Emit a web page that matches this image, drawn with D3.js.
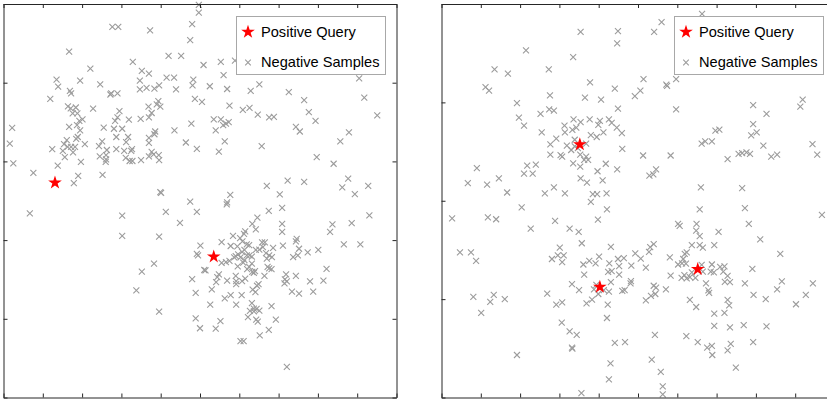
<!DOCTYPE html>
<html>
<head>
<meta charset="utf-8">
<script src="https://cdn.jsdelivr.net/npm/d3@7/dist/d3.min.js"></script>
<style>
  html, body { margin: 0; padding: 0; background: #fff; }
  svg { display: block; }
  text { font-family: "Liberation Sans", Arial, Helvetica, sans-serif; }
</style>
</head>
<body>
<svg id="chart" width="827" height="399"></svg>
<script>
// ---- Data ----
const xTicks = [0, 10, 20, 30, 40, 50, 60, 70, 80, 90, 100];
const leftYTicks = [0, 20, 40, 60, 80, 100];
const rightYTicks = [0, 25, 50, 75, 100];
const legendLabels = ["Positive Query", "Negative Samples"];

const leftQueries = [[13.1, 54.6], [53.5, 35.8]];
const rightQueries = [[35.2, 64.3], [40.3, 28.1], [65.2, 32.6]];

const leftNegatives = [
[27.7,94.2],[29.2,94.2],[37.3,93.3],[48.0,94.9],[49.7,99.8],[49.7,97.8],[47.5,90.8],[16.7,87.9],[32.9,85.3],[42.0,86.8],
[45.2,86.8],[50.9,84.5],[22.1,83.6],[35.2,83.0],[37.0,82.3],[41.5,81.3],[43.4,81.3],[13.5,80.8],[13.9,79.0],[19.5,80.5],
[24.6,79.6],[34.7,80.5],[34.7,78.3],[36.4,78.7],[38.4,78.5],[39.6,79.3],[48.3,80.8],[48.1,79.3],[43.9,78.3],[16.9,77.9],
[17.2,77.3],[27.4,77.3],[27.2,77.0],[29.0,77.3],[11.9,75.9],[48.7,75.9],[50.5,75.1],[16.4,74.0],[17.1,73.5],[18.4,73.7],
[17.6,72.2],[18.8,72.2],[22.8,73.4],[39.4,75.3],[39.9,73.9],[39.0,74.5],[36.9,73.9],[29.5,72.8],[29.0,71.2],[28.4,70.3],
[37.7,72.3],[37.0,71.2],[34.9,70.8],[31.9,70.6],[20.1,70.7],[19.3,70.3],[18.7,69.2],[16.7,68.8],[2.2,68.5],[25.5,68.6],
[28.1,68.3],[30.2,68.3],[47.8,69.6],[43.5,67.9],[38.6,67.6],[38.4,66.9],[19.5,67.9],[18.9,66.2],[18.5,65.7],[28.7,66.2],
[31.7,66.2],[31.2,64.9],[37.0,66.0],[37.0,64.7],[25.1,65.1],[24.3,63.9],[46.4,64.8],[1.6,64.5],[16.1,65.4],[15.4,64.4],
[16.3,63.7],[15.1,62.7],[17.2,63.7],[18.2,63.7],[17.7,62.3],[20.7,64.4],[12.4,63.1],[26.3,62.9],[26.1,61.6],[26.1,60.5],
[26.0,59.9],[28.7,63.1],[30.7,62.7],[32.7,63.1],[32.5,62.7],[37.7,62.4],[38.2,61.8],[49.2,63.2],[15.6,61.1],[24.5,61.3],
[31.1,60.9],[32.1,60.1],[32.8,60.1],[37.0,61.3],[39.5,61.6],[39.6,60.3],[35.0,60.3],[2.5,59.5],[19.7,59.9],[13.8,58.9],
[7.6,57.1],[19.0,56.3],[17.9,54.5],[25.2,56.6],[39.9,52.2],[40.1,52.0],[47.5,49.8],
[55.3,85.3],[58.9,85.6],[56.0,81.9],[52.5,79.1],[56.9,78.4],[62.9,77.9],[65.1,79.6],[72.6,77.6],[76.5,75.6],[90.5,81.1],
[91.8,76.2],[57.5,74.2],[60.9,73.1],[62.6,73.6],[64.7,71.9],[67.6,71.2],[68.8,71.3],[77.7,72.5],[79.4,70.3],[95.1,71.7],
[53.5,70.7],[55.3,70.7],[55.9,69.2],[56.6,69.6],[57.3,70.0],[54.0,67.9],[74.4,68.8],[75.4,67.6],[87.9,67.4],[85.7,65.1],
[56.3,65.1],[54.8,62.5],[65.7,63.9],[79.7,61.1],[84.0,59.4],[72.3,55.1],[76.5,54.8],[67.0,53.8],[87.7,55.6],[86.2,53.4],
[92.8,53.8],[89.4,51.7],[57.7,51.5],[56.9,49.6],[70.3,51.6],
[6.7,46.8],[30.2,46.2],[30.2,41.1],[41.3,47.2],[49.2,47.2],[44.9,44.4],[39.6,40.9],[50.1,38.6],[49.2,36.5],[49.5,36.1],
[38.3,34.0],[35.2,32.0],[51.1,32.4],[48.0,30.1],[48.9,26.6],[33.8,27.2],[39.6,21.8],[48.9,20.1],[50.0,17.6],
[56.8,49.1],[70.9,48.2],[67.5,47.4],[93.1,46.3],[64.6,45.7],[63.3,44.1],[64.2,42.7],[61.5,42.2],[61.2,41.6],[70.9,44.1],
[70.9,42.1],[83.7,44.0],[83.1,42.1],[88.6,44.3],[58.4,41.1],[60.2,40.5],[60.8,39.7],[59.5,38.4],[61.9,38.9],[62.5,38.7],
[55.5,39.5],[65.8,39.4],[66.5,39.4],[66.0,38.2],[68.6,38.0],[74.6,40.3],[74.4,39.7],[75.2,37.8],[71.1,38.6],[86.6,38.9],
[90.8,38.9],[57.8,38.5],[80.1,37.5],[77.4,36.9],[61.3,37.5],[60.7,37.0],[59.7,36.4],[59.1,35.9],[58.7,35.6],[60.3,35.6],
[61.9,36.1],[62.6,36.1],[63.2,35.8],[64.2,37.5],[65.1,37.6],[66.8,36.7],[67.6,36.1],[68.3,35.7],[67.0,35.3],[73.7,35.7],
[74.9,36.1],[55.5,34.2],[56.6,34.4],[57.5,34.7],[61.3,34.9],[61.0,34.3],[63.2,34.0],[62.5,33.2],[62.0,32.6],[63.3,31.9],
[64.0,32.1],[67.2,33.2],[67.6,32.8],[59.6,33.3],[59.1,30.9],[51.4,32.3],[54.8,31.3],[54.4,30.6],[54.1,29.3],[56.9,29.7],
[59.2,29.6],[59.2,28.8],[61.5,30.2],[60.7,29.6],[63.7,31.7],[66.4,30.9],[68.2,32.6],[64.9,28.8],[64.5,28.4],[63.4,27.4],
[64.1,26.8],[71.9,31.3],[71.6,30.0],[72.1,29.5],[71.5,29.0],[74.4,30.9],[82.2,32.7],[78.0,29.5],[81.4,29.7],[73.4,26.9],
[75.2,26.4],[78.8,26.9],[53.0,27.5],[56.3,25.2],[57.8,26.0],[60.6,26.0],[52.6,23.6],[59.2,23.6],[63.2,24.0],[63.7,22.6],
[68.2,23.2],[64.4,22.5],[65.1,22.1],[63.7,21.9],[62.7,22.0],[62.2,20.4],[64.3,19.8],[64.7,19.3],[69.3,19.8],[55.2,19.4],
[54.0,17.5],[67.5,17.2],[65.2,15.8],[60.3,14.3],[61.1,14.3],[72.1,7.8]
];

const rightNegatives = [
[35.4,92.9],[44.9,93.1],[44.7,90.0],[21.5,88.2],[33.5,86.5],[13.5,83.4],[16.9,82.3],[27.3,83.4],[37.8,80.1],[44.1,78.5],
[11.2,78.9],[12.1,78.0],[27.6,76.8],[36.5,76.2],[40.6,75.7],[49.2,76.6],[19.2,74.8],[44.9,73.4],[27.4,73.2],[28.6,72.9],
[25.2,72.1],[19.7,71.1],[21.0,69.1],[33.6,70.7],[35.4,70.0],[37.7,70.7],[40.3,70.3],[39.9,69.3],[42.6,70.7],[43.3,69.8],
[44.6,68.6],[45.9,67.2],[31.3,69.1],[33.3,68.0],[34.3,68.6],[25.5,67.4],[31.4,67.4],[41.2,67.4],[39.5,66.2],[38.0,66.7],
[29.2,65.8],[27.7,64.3],[33.9,65.5],[31.9,64.0],[33.0,62.9],[33.9,63.8],[34.7,63.4],[36.8,64.5],[35.3,61.7],[36.8,61.2],
[37.3,60.4],[36.3,60.4],[27.7,61.7],[30.3,61.6],[30.7,61.2],[46.0,63.2],[33.5,59.5],[35.3,58.7],[41.8,59.4],[39.7,57.5],
[44.7,58.0],[9.0,58.3],[21.8,58.9],[24.0,59.2],[21.0,56.9],[23.2,56.9],[14.6,55.7],[35.4,55.7],[37.0,54.6],[41.0,55.2],
[6.7,54.5],[11.6,54.1],[28.6,53.4],[16.7,52.1],[26.3,51.9],[31.4,51.9],[38.5,51.7],[39.6,51.7],[42.0,51.9],[38.0,49.7],
[66.3,97.5],[56.0,95.4],[54.1,92.9],[51.4,80.9],[50.6,78.0],[57.2,79.5],[57.4,79.2],[59.7,80.9],[59.7,73.2],[79.3,74.3],
[82.7,72.1],[91.9,75.7],[91.3,73.9],[79.3,69.5],[80.2,67.4],[78.8,66.6],[69.7,67.8],[70.7,68.1],[68.8,65.1],[67.1,65.1],
[66.2,64.5],[81.9,64.0],[94.4,64.4],[95.6,61.7],[51.3,61.5],[58.3,61.5],[72.8,60.6],[75.6,61.9],[76.5,62.1],[77.6,62.3],
[78.5,61.9],[83.9,61.2],[85.4,61.7],[54.6,58.0],[53.9,56.7],[52.9,56.4],[66.0,53.4],[76.5,53.2],
[42.1,47.8],[20.4,48.3],[2.7,45.5],[11.8,45.8],[13.9,45.3],[28.9,44.9],[39.8,45.2],[22.7,42.9],[32.6,42.9],[34.9,42.1],
[35.7,39.2],[43.1,38.3],[4.7,36.9],[7.5,36.9],[8.8,34.7],[30.1,38.1],[29.6,36.1],[31.1,36.1],[28.1,35.2],[30.7,34.4],
[40.1,35.8],[37.6,34.7],[39.2,34.1],[36.1,33.8],[36.3,31.2],[42.7,34.1],[42.4,31.9],[43.3,32.1],[45.2,33.4],[44.9,35.2],
[46.4,35.4],[45.2,31.2],[48.3,33.5],[49.3,36.6],[48.2,29.6],[48.1,29.0],[46.6,27.3],[46.0,27.1],[43.1,29.3],[33.2,28.8],
[35.0,27.3],[39.4,28.6],[38.8,27.5],[41.3,27.3],[42.6,26.9],[39.9,26.3],[38.3,24.9],[36.9,23.9],[26.9,26.4],[29.2,23.6],
[30.7,24.2],[42.3,23.6],[42.1,20.2],[8.1,25.6],[10.1,21.5],[13.3,26.1],[12.4,24.3],[16.1,25.0],[30.6,19.0],[32.6,16.8],
[34.4,15.9],[33.2,12.7],[33.3,12.4],[44.1,13.9],[46.7,14.1],[19.2,10.8],[43.0,8.7],[42.6,4.6],[35.6,1.1],
[65.7,47.8],[77.2,48.1],[96.8,46.4],[60.2,44.1],[60.6,43.6],[64.9,44.1],[64.8,42.4],[65.7,41.0],[78.2,44.1],[70.5,42.1],
[81.1,40.2],[69.4,38.7],[65.7,38.7],[66.5,38.1],[63.7,38.7],[62.4,36.9],[61.9,36.5],[54.0,39.0],[53.1,38.2],[52.8,37.0],
[50.7,35.3],[58.1,35.6],[86.2,36.5],[52.0,33.0],[61.5,35.2],[61.2,34.1],[60.2,33.8],[62.2,34.0],[66.2,33.7],[66.5,32.0],
[68.8,33.8],[68.5,32.0],[69.3,31.8],[70.9,33.2],[72.0,33.3],[71.7,32.0],[72.8,30.9],[79.1,32.7],[58.3,31.0],[61.1,30.4],
[62.4,30.3],[63.2,30.6],[64.6,30.4],[61.8,31.1],[63.7,31.8],[72.1,29.4],[73.4,29.3],[77.2,29.0],[86.6,29.5],[85.4,27.5],
[94.5,29.0],[92.7,26.1],[90.2,23.7],[54.0,28.4],[54.6,27.9],[54.4,26.3],[53.3,25.8],[52.0,24.7],[57.1,27.5],[67.3,29.0],
[67.9,27.2],[68.1,26.6],[79.4,26.1],[82.5,25.0],[63.2,24.8],[64.8,23.0],[72.8,24.8],[73.2,23.4],[72.0,21.5],[69.4,21.3],
[69.4,18.2],[73.4,17.8],[76.9,18.4],[82.7,18.1],[54.3,15.9],[62.3,15.6],[65.2,14.1],[67.6,12.7],[68.8,13.1],[68.9,10.8],
[73.6,13.6],[72.8,12.0],[79.3,14.1],[53.5,9.6],[55.8,6.5],[74.9,7.6],[56.3,2.8],[56.3,0.8]
];

// ---- Drawing ----
const svg = d3.select("#chart");
const AXIS = "#262626";
const NEG = "#9c9c9c";
const POS = "#ff0000";
const SIZE = 393;

const panels = [
  { left: 3.5, top: 4, h: 393.5, yTicks: leftYTicks, neg: leftNegatives, pos: leftQueries, legendX: 236.5 },
  { left: 441.5, top: 4, h: 393.5, yTicks: rightYTicks, neg: rightNegatives, pos: rightQueries, legendX: 674.5 }
];

const crossPath = (h) => `M${-h},${-h}L${h},${h}M${-h},${h}L${h},${-h}`;
const star = d3.symbol().type(d3.symbolStar).size(58);

panels.forEach(p => {
  const g = svg.append("g").attr("transform", `translate(${p.left},${p.top})`);
  const x = d3.scaleLinear().domain([0, 100]).range([0, SIZE]);
  const y = d3.scaleLinear().domain([0, 100]).range([p.h, 0]);

  // negatives
  g.append("g").selectAll("path").data(p.neg).join("path")
    .attr("transform", d => `translate(${x(d[0])},${y(d[1])})`)
    .attr("d", crossPath(3))
    .attr("fill", "none").attr("stroke", NEG).attr("stroke-width", 1.1);

  // positives
  g.append("g").selectAll("path").data(p.pos).join("path")
    .attr("transform", d => `translate(${x(d[0])},${y(d[1])})`)
    .attr("d", star).attr("fill", POS);

  // axes (inward ticks, box)
  const styleAxis = sel => {
    sel.selectAll(".domain").attr("stroke", AXIS).attr("stroke-width", 1);
    sel.selectAll(".tick line").attr("stroke", AXIS).attr("stroke-width", 1);
    sel.selectAll(".tick text").remove();
  };
  g.append("g").attr("transform", `translate(0,${p.h})`)
    .call(d3.axisBottom(x).tickValues(xTicks).tickSizeInner(-4).tickSizeOuter(0).tickFormat(""))
    .call(styleAxis);
  g.append("g")
    .call(d3.axisTop(x).tickValues(xTicks).tickSizeInner(-4).tickSizeOuter(0).tickFormat(""))
    .call(styleAxis);
  g.append("g")
    .call(d3.axisLeft(y).tickValues(p.yTicks).tickSizeInner(-4).tickSizeOuter(0).tickFormat(""))
    .call(styleAxis);
  g.append("g").attr("transform", `translate(${SIZE},0)`)
    .call(d3.axisRight(y).tickValues(p.yTicks).tickSizeInner(-4).tickSizeOuter(0).tickFormat(""))
    .call(styleAxis);

  // legend
  const lg = svg.append("g").attr("transform", `translate(${p.legendX},16.5)`);
  lg.append("rect").attr("width", 149).attr("height", 58)
    .attr("fill", "#fff").attr("stroke", "#a8a8a8").attr("stroke-width", 1);
  lg.append("path").attr("transform", "translate(11.5,15.5)").attr("d", star).attr("fill", POS);
  lg.append("path").attr("transform", "translate(11.5,46)").attr("d", crossPath(2.8))
    .attr("fill", "none").attr("stroke", NEG).attr("stroke-width", 1.1);
  lg.selectAll("text").data(legendLabels).join("text")
    .attr("x", 24.5).attr("y", (d, i) => 20.5 + i * 30)
    .attr("font-size", "14.6px").attr("fill", "#000")
    .text(d => d);
});
</script>
</body>
</html>
